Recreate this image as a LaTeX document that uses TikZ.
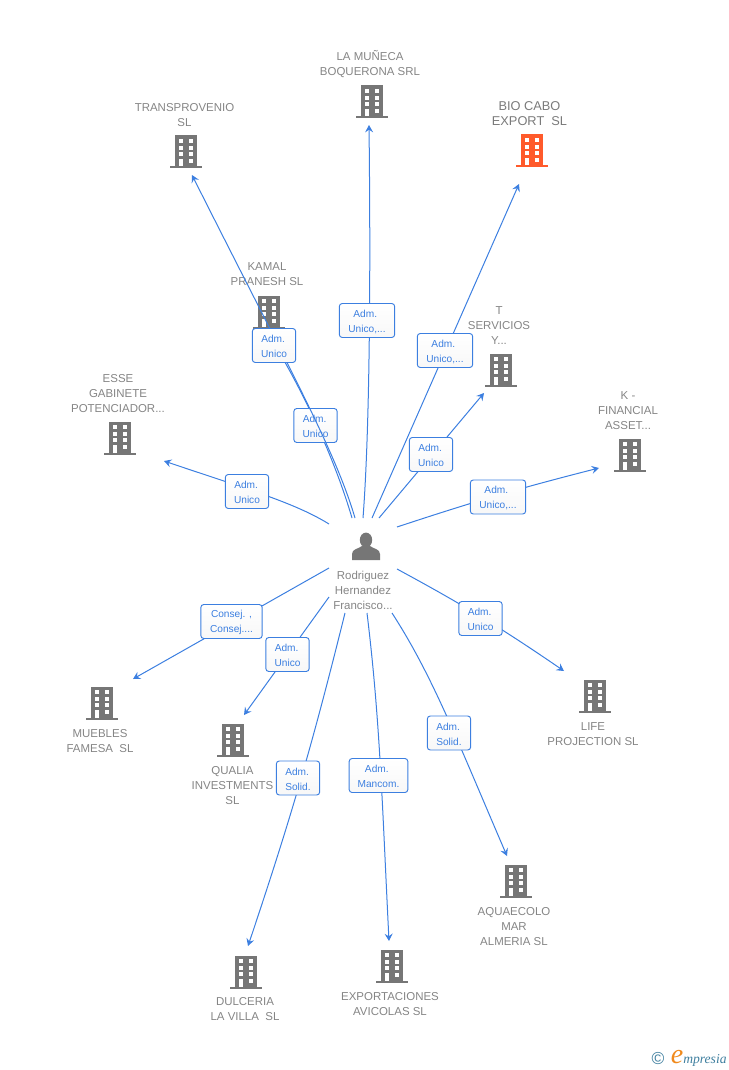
\documentclass[tikz,border=0pt]{standalone}
\usepackage{fontspec}
\setmainfont{Liberation Sans}
\newfontfamily\logofont{Liberation Serif}
\usetikzlibrary{arrows.meta}
\definecolor{linkblue}{HTML}{3C7FE0}
\definecolor{namegray}{HTML}{858585}
\definecolor{iconred}{HTML}{FF5A2B}
\definecolor{icongray}{HTML}{767676}
\definecolor{logoteal}{HTML}{3F7F9F}
\definecolor{logoorange}{HTML}{F08A1D}
\newcommand{\tagtext}[2]{\raisebox{-1pt}[\height][\depth]{#1}\\\raisebox{-1pt}[\height][\depth]{#2}}
\tikzset{
  firm/.style={text=namegray,align=center,font=\fontsize{8.6}{11.25}\selectfont,inner sep=0pt},
  mainfirm/.style={text=namegray!92!black,align=center,font=\fontsize{9.6}{11.25}\selectfont,inner sep=0pt},
  tag/.style={draw=linkblue,top color=white,bottom color=black!3,rounded corners=2.2pt,line width=0.7pt,text=linkblue,align=center,
    font=\fontsize{7.6}{11.25}\selectfont,minimum height=25.5pt,inner sep=0pt},
  tagsmall/.style={tag,minimum width=32.5pt},
  taglarge/.style={tag,minimum width=41.5pt},
  link/.style={draw=linkblue,line width=0.75pt,-{Stealth[length=5.5pt,width=6pt,inset=2pt]}},
  pics/block/.style={code={
    \fill[#1] (-10.8,-16.5) rectangle (10.8,15);
    \fill[#1] (-15.8,14.5) rectangle (15.8,16.5);
    \foreach \yy in {-12.8,-6.2,0.4} {
      \fill[white] (-7.5,\yy) rectangle (-3.2,\yy+4);
      \fill[white] (2.5,\yy) rectangle (6.8,\yy+4);
    }
    \fill[white] (-7.5,6.8) rectangle (-3.2,14.5);
    \fill[white] (2.5,6.8) rectangle (6.8,11);
  }}
}
\begin{document}
\begin{tikzpicture}[x=0.75pt,y=-0.75pt]
  \useasboundingbox (0,0) rectangle (728,1070);
  %free ends of the links
  \coordinate (sTrans) at (355,518);
  \coordinate (sKamal) at (352,518);
  \coordinate (sMuneca) at (363,518);
  \coordinate (sBio) at (372,518);
  \coordinate (sServ) at (379,518);
  \coordinate (sFin) at (397,527);
  \coordinate (sEsse) at (329,524);
  \coordinate (sMueb) at (329,568);
  \coordinate (sQual) at (329,597);
  \coordinate (sDulc) at (345,613);
  \coordinate (sExpo) at (367,613);
  \coordinate (sAqua) at (392,613);
  \coordinate (sLife) at (397,569);
  \coordinate (eTrans) at (192,175);
  \coordinate (eKamal) at (272,340);
  \coordinate (eMuneca) at (369,125);
  \coordinate (eBio) at (519,184);
  \coordinate (eServ) at (484,393);
  \coordinate (eFin) at (599,468);
  \coordinate (eEsse) at (164,461);
  \coordinate (eMueb) at (133,679);
  \coordinate (eQual) at (244,715);
  \coordinate (eDulc) at (248,946);
  \coordinate (eExpo) at (389,941);
  \coordinate (eAqua) at (507,856);
  \coordinate (eLife) at (564,671);
  %buildings
  \pic at (372,102) {block=icongray};
  \pic at (532,151) {block=iconred};
  \pic at (186,152) {block=icongray};
  \pic at (269,312) {block=icongray};
  \pic at (501,370) {block=icongray};
  \pic at (630,455) {block=icongray};
  \pic at (120,438) {block=icongray};
  \pic at (102,703) {block=icongray};
  \pic at (233,740) {block=icongray};
  \pic at (246,972) {block=icongray};
  \pic at (392,966) {block=icongray};
  \pic at (516,881) {block=icongray};
  \pic at (595,696) {block=icongray};
  %names
  \node[firm] (nMuneca) at (370,64.5) {LA MUÑECA\\BOQUERONA SRL};
  \node[mainfirm] (nBio) at (529.5,114) {BIO CABO\\EXPORT\ \ SL};
  \node[firm] (nTrans) at (184.5,115) {TRANSPROVENIO\\SL};
  \node[firm] (nKamal) at (267,274) {KAMAL\\PRANESH SL};
  \node[firm] (nServ) at (499,326) {T\\SERVICIOS\\Y...};
  \node[firm] (nFin) at (628,411) {K -\\FINANCIAL\\ASSET...};
  \node[firm] (nEsse) at (118,394) {ESSE\\GABINETE\\POTENCIADOR...};
  \node[firm] (nMueb) at (100,741) {MUEBLES\\FAMESA\ \ SL};
  \node[firm] (nQual) at (232.5,786) {QUALIA\\INVESTMENTS\\SL};
  \node[firm] (nDulc) at (245,1009) {DULCERIA\\LA VILLA\ \ SL};
  \node[firm] (nExpo) at (390,1004) {EXPORTACIONES\\AVICOLAS SL};
  \node[firm] (nAqua) at (514,927) {AQUAECOLO\\MAR\\ALMERIA SL};
  \node[firm] (nLife) at (593,734) {LIFE\\PROJECTION SL};
  %person
  \fill[icongray] (366,540) ellipse (6.2 and 7.4);
  \fill[icongray] (352,560) -- (352,554) .. controls (352,549) and (358,549) .. (362,546)
    -- (370,546) .. controls (374,549) and (380,549) .. (380,554) -- (380,560) -- cycle;
  \node[firm] (nPers) at (363,590) {Rodriguez\\Hernandez\\Francisco...};
  %links and tags
  \draw[link] (sKamal) .. controls (335,460) and (305,395) .. (eKamal);
  \node[tagsmall] (tKamal) at (315.5,425.5) {\tagtext{Adm.\,}{Unico}};
  \draw[link] (sTrans) .. controls (335,450) and (290,370) .. (eTrans);
  \node[tagsmall] (tTrans) at (274,345.5) {\tagtext{Adm.\,}{Unico}};
  \draw[link] (sMuneca) .. controls (369,440) and (371,300) .. (eMuneca);
  \node[taglarge] (tMuneca) at (367,320.5) {\tagtext{Adm.\,\,}{Unico,...}};
  \draw[link] (sBio) -- (eBio);
  \node[taglarge] (tBio) at (445,350.5) {\tagtext{Adm.\,\,}{Unico,...}};
  \draw[link] (sServ) -- (eServ);
  \node[tagsmall] (tServ) at (431,454.5) {\tagtext{Adm.\,}{Unico}};
  \draw[link] (sFin) to[bend left=2] (eFin);
  \node[taglarge] (tFin) at (498,497) {\tagtext{Adm.\,\,}{Unico,...}};
  \draw[link] (sEsse) .. controls (295,503) and (250,490) .. (eEsse);
  \node[tagsmall] (tEsse) at (247,491.5) {\tagtext{Adm.\,}{Unico}};
  \draw[link] (sMueb) -- (eMueb);
  \node[tag,minimum width=46pt] (tMueb) at (231.5,621.5) {\tagtext{Consej. ,}{Consej....}};
  \draw[link] (sQual) -- (eQual);
  \node[tagsmall] (tQual) at (287.5,654.5) {\tagtext{Adm.\,}{Unico}};
  \draw[link] (sDulc) to[bend left=2.3] (eDulc);
  \node[tagsmall] (tDulc) at (298,778) {\tagtext{Adm.\,}{Solid.}};
  \draw[link] (sExpo) .. controls (380,720) and (382,800) .. (eExpo);
  \node[tag,minimum width=44pt] (tExpo) at (378.5,775.5) {\tagtext{Adm.\,\,}{Mancom.}};
  \draw[link] (sAqua) .. controls (432,675) and (455,735) .. (eAqua);
  \node[tagsmall] (tAqua) at (449,733) {\tagtext{Adm.\,}{Solid.}};
  \draw[link] (sLife) to[bend left=3] (eLife);
  \node[tagsmall] (tLife) at (480.5,618.5) {\tagtext{Adm.\,}{Unico}};
  %logo
  \node[text=logoteal,inner sep=0pt,font=\fontsize{13}{13}\selectfont] (lCopy) at (658,1059) {©};
  \node[text=logoorange,inner sep=0pt,font=\logofont\fontsize{21}{21}\itshape\selectfont] (lE) at (677,1057) {e};
  \node[text=logoteal,inner sep=0pt,anchor=west,font=\logofont\fontsize{10.2}{10}\itshape\selectfont] (lWord) at (683,1060) {mpresia};
\end{tikzpicture}
\end{document}
